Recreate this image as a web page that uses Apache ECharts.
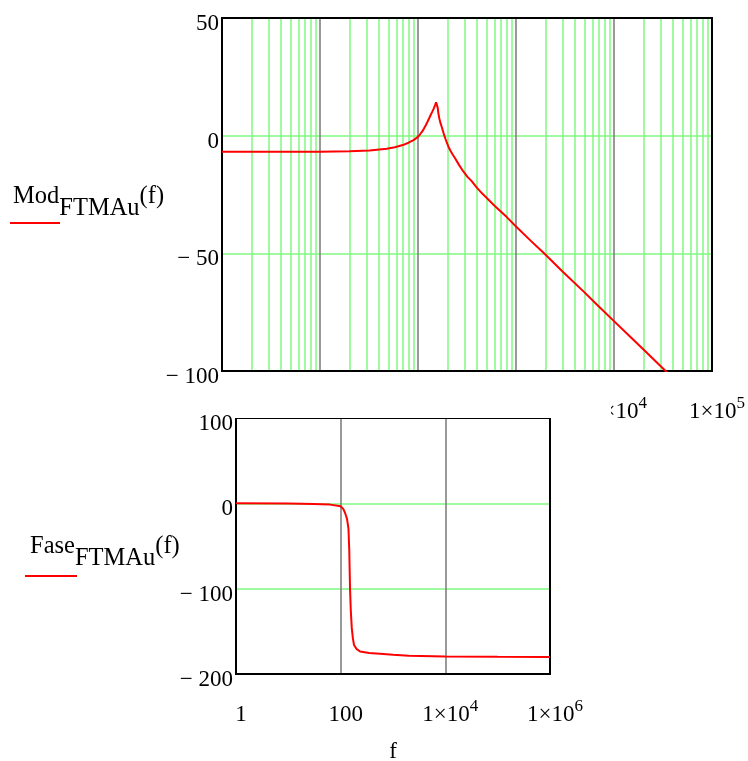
<!DOCTYPE html>
<html><head><meta charset="utf-8">
<script src="https://cdn.jsdelivr.net/npm/echarts@6/dist/echarts.min.js"></script>
<style>html,body{margin:0;padding:0;background:#fff}#c{width:748px;height:761px}</style>
</head><body><div id="c"></div>
<script>
// ---- data ----
const magFreq = [1, 3, 10, 20, 32, 48, 58, 70, 80, 90, 100, 105, 110, 115, 120, 125, 130, 135, 140, 145, 150, 153, 155, 157, 159, 161, 165, 170, 175, 180, 185, 190, 197, 205, 215, 225, 239, 260, 290, 320, 353, 400, 450, 600, 800, 1000, 1400, 1932, 3000, 5000, 7000, 10000, 15000, 20000, 34000, 40000];
const magDb   = [-6.8, -6.8, -6.8, -6.6, -6.3, -5.6, -4.9, -4.0, -3.0, -1.9, -0.5, 0.6, 1.7, 3.0, 4.4, 5.9, 7.4, 8.9, 10.2, 11.6, 13.2, 14.2, 14.7, 13.6, 11.8, 9.8, 7.3, 5.2, 3.6, 1.9, 0.2, -1.2, -3.0, -4.8, -6.5, -7.9, -9.6, -12.2, -15.2, -17.5, -19.3, -22.2, -24.5, -29.7, -34.5, -38.6, -44.5, -50.0, -57.8, -66.6, -72.6, -78.8, -85.9, -90.9, -100.2, -103.0];
const phaseFreq = [1, 10, 30, 63, 100, 112, 121, 132, 141, 146, 151, 156, 163, 171, 180, 200, 235, 350, 566, 1000, 2000, 10000, 100000, 1000000];
const phaseDeg  = [0, -0.3, -0.8, -1.5, -3.5, -6.5, -11, -18, -30, -55, -100, -125, -146, -158, -166, -170.5, -173.6, -175.5, -176.4, -177.5, -178.5, -179.5, -179.9, -180];

// tick labels, indexed by decade exponent
const magXLabels   = ['', '', '', '', '1×10^4', '1×10^5'];
const phaseXLabels = ['1', '', '100', '', '1×10^4', '', '1×10^6'];
// grid lines
const magMajorX = [10, 100, 1000, 10000];
const magMinorX = [];
for (let d = 1; d < 100000; d *= 10) for (let k = 2; k <= 9; k++) magMinorX.push(k * d);
const magGridY = [0, -50];
const phaseMajorX = [100, 10000];
const phaseGridY = [0, -100];

const SERIF = 'Liberation Serif';
const GREEN = '#80f880';
const GRAY = '#808080';
const RED = '#ff0000';

const richX = {
  b: {fontFamily: SERIF, fontSize: 23, color: '#000', lineHeight: 28, verticalAlign: 'bottom'},
  s: {fontFamily: SERIF, fontSize: 17, color: '#000', lineHeight: 17, verticalAlign: 'top'}
};
const richY = {
  v: {fontFamily: SERIF, fontSize: 23, color: '#000', lineHeight: 35, verticalAlign: 'bottom'}
};
function xFmt(labels) {
  return function (v) {
    const e = Math.round(Math.log10(v));
    const t = labels[e];
    if (!t) return '';
    const p = t.split('^');
    return '{b|' + p[0] + '}' + (p[1] ? '{s|' + p[1] + '}' : '');
  };
}
function yFmt(v) { return '{v|' + (v < 0 ? '\u2212 ' + (-v) : String(v)) + '}'; }

function gridLines(xsMajor, xsMinor, ys) {
  const d = [];
  xsMinor.forEach(v => { if (xsMajor.indexOf(v) < 0) d.push({xAxis: v, lineStyle: {color: GREEN, width: 1.5, type: 'solid'}}); });
  ys.forEach(v => d.push({yAxis: v, lineStyle: {color: GREEN, width: 1.5, type: 'solid'}}));
  xsMajor.forEach(v => d.push({xAxis: v, lineStyle: {color: GRAY, width: 1.6, type: 'solid'}}));
  return {silent: true, z: 0, symbol: ['none', 'none'], label: {show: false}, animation: false,
          emphasis: {disabled: true}, data: d};
}

const yLabel = {fontFamily: SERIF, fontSize: 23, color: '#000', margin: 3, rich: richY};

const chart = echarts.init(document.getElementById('c'), null, {renderer: 'canvas'});
chart.setOption({
  animation: false,
  backgroundColor: '#fff',
  grid: [
    {left: 222, top: 18, width: 490, height: 353, show: true, borderColor: '#000', borderWidth: 2, z: 1,
     containLabel: false, outerBoundsMode: 'none'},
    {left: 236, top: 418, width: 314, height: 256, show: true, borderColor: '#000', borderWidth: 2, z: 1,
     containLabel: false, outerBoundsMode: 'none'}
  ],
  xAxis: [
    {gridIndex: 0, type: 'log', logBase: 10, min: 1, max: 100000, interval: 1,
     axisLine: {show: false}, axisTick: {show: false}, splitLine: {show: false},
     axisLabel: {formatter: xFmt(magXLabels), rich: richX, margin: 24, padding: [0, 0, 0, 10], hideOverlap: false, showMinLabel: true, showMaxLabel: true}},
    {gridIndex: 1, type: 'log', logBase: 10, min: 1, max: 1000000, interval: 2, z: 5,
     name: 'f', nameLocation: 'middle', nameGap: 66,
     nameTextStyle: {fontFamily: SERIF, fontSize: 23, color: '#000'},
     axisLine: {show: false}, axisTick: {show: false}, splitLine: {show: false},
     axisLabel: {formatter: xFmt(phaseXLabels), rich: richX, margin: 24, padding: [0, 0, 0, 10], hideOverlap: false, showMinLabel: true, showMaxLabel: true}}
  ],
  yAxis: [
    {gridIndex: 0, type: 'value', min: -100, max: 50, interval: 50,
     axisLine: {show: false}, axisTick: {show: false}, splitLine: {show: false},
     axisLabel: Object.assign({formatter: yFmt}, yLabel)},
    {gridIndex: 1, type: 'value', min: -200, max: 100, interval: 100, z: 5,
     axisLine: {show: false}, axisTick: {show: false}, splitLine: {show: false},
     axisLabel: Object.assign({formatter: yFmt}, yLabel)}
  ],
  series: [
    {type: 'line', xAxisIndex: 0, yAxisIndex: 0, z: 0, data: [], silent: true,
     markLine: gridLines(magMajorX, magMinorX, magGridY)},
    {type: 'line', xAxisIndex: 1, yAxisIndex: 1, z: 0, data: [], silent: true,
     markLine: gridLines(phaseMajorX, [], phaseGridY)},
    {type: 'line', xAxisIndex: 0, yAxisIndex: 0, z: 3, showSymbol: false, clip: true,
     lineStyle: {color: RED, width: 2}, itemStyle: {color: RED},
     data: magFreq.map((f, i) => [f, magDb[i]])},
    {type: 'line', xAxisIndex: 1, yAxisIndex: 1, z: 3, showSymbol: false, clip: true,
     lineStyle: {color: RED, width: 2}, itemStyle: {color: RED},
     data: phaseFreq.map((f, i) => [f, phaseDeg[i]])}
  ],
  graphic: [
    {type: 'rect', z: 3, silent: true, shape: {x: 0, y: 388, width: 611, height: 30}, style: {fill: '#fff'}},
    {type: 'text', left: 13, top: 184, z: 10, silent: true,
     style: {text: '{a|Mod}{b|FTMAu}{a|(f)}',
       rich: {a: {fontFamily: SERIF, fontSize: 24.5, fill: '#000', lineHeight: 37, verticalAlign: 'top'},
              b: {fontFamily: SERIF, fontSize: 24.5, fill: '#000', lineHeight: 37, verticalAlign: 'bottom'}}}},
    {type: 'line', z: 10, silent: true, shape: {x1: 10, y1: 223, x2: 60, y2: 223}, style: {stroke: RED, lineWidth: 2}},
    {type: 'text', left: 30, top: 534, z: 10, silent: true,
     style: {text: '{a|Fase}{b|FTMAu}{a|(f)}',
       rich: {a: {fontFamily: SERIF, fontSize: 24.5, fill: '#000', lineHeight: 37, verticalAlign: 'top'},
              b: {fontFamily: SERIF, fontSize: 24.5, fill: '#000', lineHeight: 37, verticalAlign: 'bottom'}}}},
    {type: 'line', z: 10, silent: true, shape: {x1: 25, y1: 576, x2: 77, y2: 576}, style: {stroke: RED, lineWidth: 2}}
  ]
});
</script>
</body></html>
